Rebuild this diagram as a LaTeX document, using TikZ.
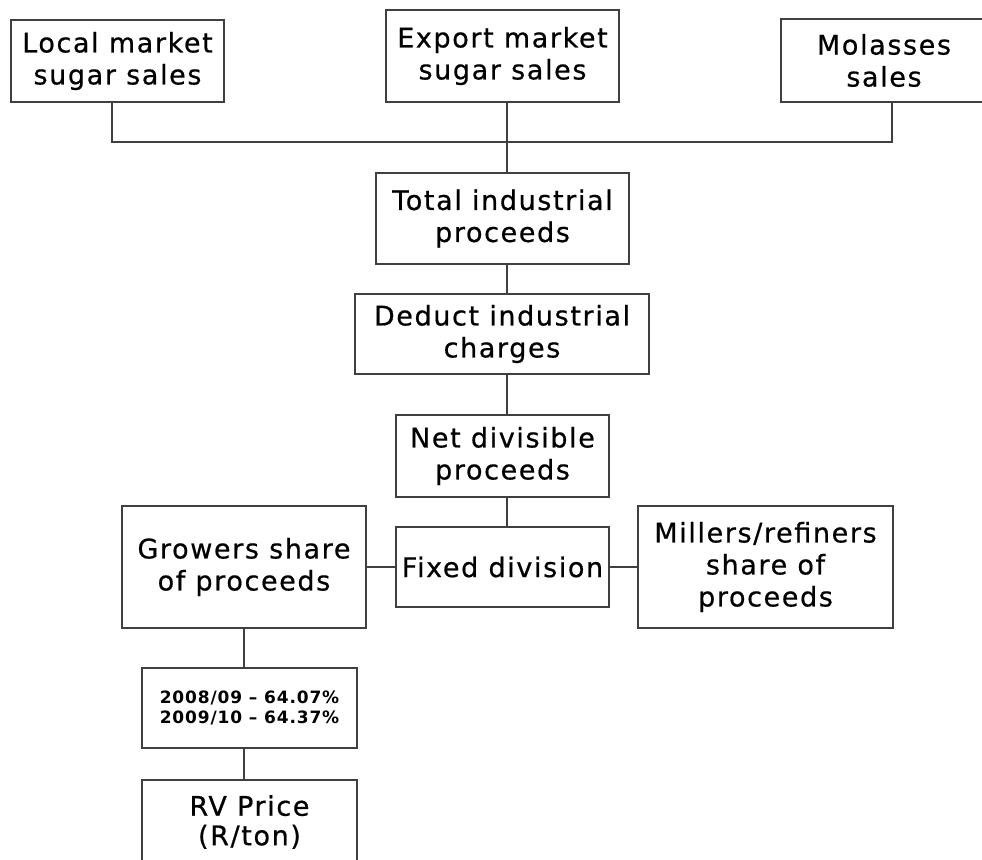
\documentclass[tikz,border=0pt]{standalone}
\usepackage{fontspec}
\setmainfont{DejaVu Sans}[LetterSpace=6,FakeBold=0.6]
\newfontfamily\pctfont{DejaVu Sans}[LetterSpace=5]
\begin{document}
\begin{tikzpicture}[x=1pt,y=-1pt,
  box/.style={draw=black!75, line width=1.6pt, fill=white, inner sep=0pt, align=center,
    font=\fontsize{27}{32}\selectfont},
  link/.style={draw=black!75, line width=1.6pt}]
\useasboundingbox (0,0) rectangle (982,859);
\clip (0,0) rectangle (982,859);
\node[box, minimum width=213pt, minimum height=82pt] (local) at (117.5,61) {Local market\\sugar sales};
\node[box, minimum width=233pt, minimum height=92pt] (export) at (502.5,56) {Export market\\sugar sales};
\node[box, minimum width=206pt, minimum height=83pt] (molasses) at (884,60.5) {Molasses\\sales};
\node[box, minimum width=253pt, minimum height=91pt] (total) at (502.5,218.5) {Total industrial\\proceeds};
\node[box, minimum width=294pt, minimum height=80pt] (deduct) at (502,334) {Deduct industrial\\charges};
\node[box, minimum width=213pt, minimum height=82pt] (net) at (502.5,456) {Net divisible\\proceeds};
\node[box, minimum width=213pt, minimum height=80pt] (fixed) at (502.5,567) {Fixed division};
\node[box, minimum width=244pt, minimum height=122pt] (growers) at (244,567) {Growers share\\of proceeds};
\node[box, minimum width=255pt, minimum height=122pt] (millers) at (765.5,567) {Millers/refiners\\share of\\proceeds};
\node[box, minimum width=215pt, minimum height=80pt, font=\pctfont\fontsize{17}{19.5}\selectfont\bfseries] (pct) at (249.5,708) {2008/09 – 64.07\%\\2009/10 – 64.37\%};
\node[box, minimum width=215pt, minimum height=84pt, font=\fontsize{27}{29.5}\selectfont] (rv) at (249.5,822) {RV Price\\(R/ton)};
\coordinate (j) at (507,142);
\coordinate (jl) at (112,142);
\coordinate (jr) at (892,142);
\draw[link] (local.south -| jl) -- (jl) -- (jr) -- (molasses.south -| jr);
\draw[link] (export.south -| j) -- (total.north -| j);
\draw[link] (total.south -| j) -- (deduct.north -| j);
\draw[link] (deduct.south -| j) -- (net.north -| j);
\draw[link] (net.south -| j) -- (fixed.north -| j);
\draw[link] (growers.east) -- (fixed.west);
\draw[link] (fixed.east) -- (millers.west);
\draw[link] (growers.south) -- (pct.north -| growers.south);
\draw[link] (pct.south -| growers.south) -- (rv.north -| growers.south);
\end{tikzpicture}
\end{document}
